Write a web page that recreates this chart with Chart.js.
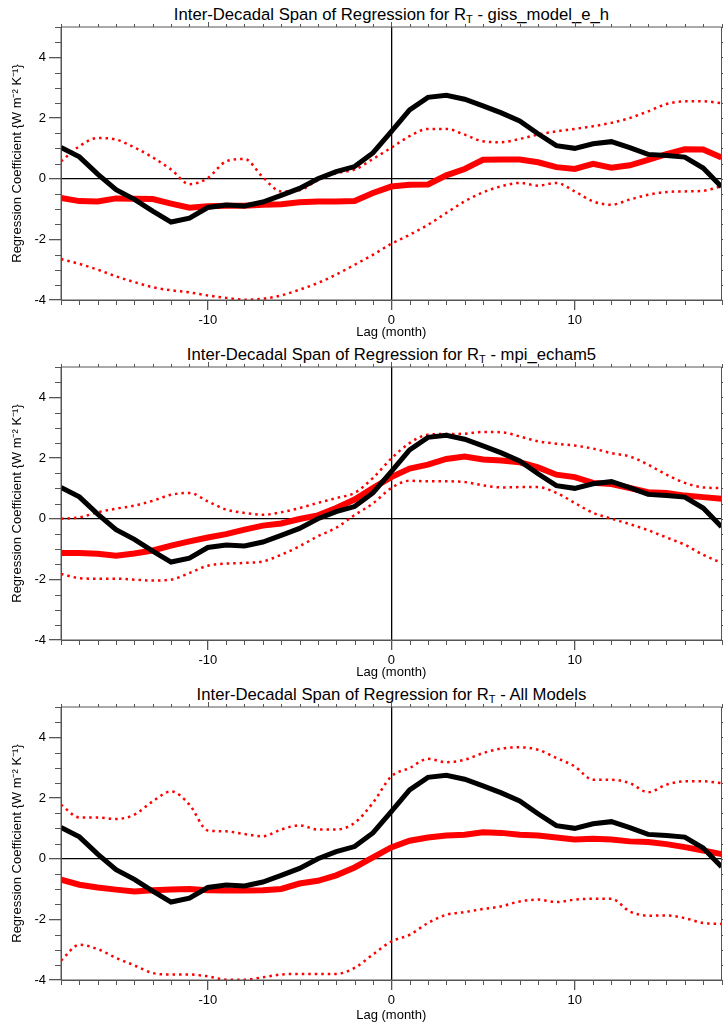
<!DOCTYPE html>
<html>
<head>
<meta charset="utf-8">
<script src="https://cdn.jsdelivr.net/npm/chart.js@4.4.0/dist/chart.umd.min.js"></script>
<style>
  html, body { margin: 0; padding: 0; background: #fff; }
  .panel { position: relative; width: 723px; height: 340px; }
  .panel.last { height: 343px; }
  .panel canvas { position: absolute; left: 0; top: 0; }
  .title {
    position: absolute; left: 61px; width: 661px; top: 5px;
    text-align: center; font: 16.7px "Liberation Sans", Arial, sans-serif;
    line-height: 20px; color: #000; white-space: nowrap;
  }
  .title sub { font-size: 11px; vertical-align: -3px; line-height: 0; }
</style>
</head>
<body>

<div class="panel"><div class="title">Inter-Decadal Span of Regression for R<sub>T</sub> - giss_model_e_h</div><canvas id="c1" width="723" height="340"></canvas></div>
<div class="panel"><div class="title">Inter-Decadal Span of Regression for R<sub>T</sub> - mpi_echam5</div><canvas id="c2" width="723" height="340"></canvas></div>
<div class="panel last"><div class="title">Inter-Decadal Span of Regression for R<sub>T</sub> - All Models</div><canvas id="c3" width="723" height="343"></canvas></div>

<script>
// lag in months
var lags = [-18, -17, -16, -15, -14, -13, -12, -11, -10, -9, -8, -7, -6, -5, -4, -3, -2, -1, 0,
            1, 2, 3, 4, 5, 6, 7, 8, 9, 10, 11, 12, 13, 14, 15, 16, 17, 18];

// observations (black, same in every panel)
var obs = [1.03, 0.72, 0.15, -0.36, -0.68, -1.07, -1.43, -1.30, -0.95, -0.87, -0.90, -0.77, -0.55, -0.32, 0.00, 0.23, 0.40, 0.85, 1.55,
           2.27, 2.68, 2.75, 2.62, 2.40, 2.17, 1.90, 1.48, 1.09, 1.00, 1.15, 1.22, 1.02, 0.80, 0.76, 0.71, 0.35, -0.27];

// giss_model_e_h
var gissMean = [-0.64, -0.74, -0.75, -0.65, -0.66, -0.67, -0.82, -0.96, -0.91, -0.89, -0.89, -0.86, -0.84, -0.78, -0.75, -0.75, -0.74, -0.47, -0.26,
                -0.20, -0.19, 0.11, 0.32, 0.62, 0.63, 0.63, 0.54, 0.38, 0.32, 0.49, 0.36, 0.44, 0.62, 0.81, 0.97, 0.96, 0.70];
var gissUpper = [0.57, 1.07, 1.34, 1.29, 1.03, 0.70, 0.30, -0.18, 0.02, 0.57, 0.65, 0.05, -0.42, -0.38, -0.05, 0.18, 0.30, 0.65, 1.02,
                 1.40, 1.64, 1.64, 1.45, 1.23, 1.20, 1.31, 1.45, 1.56, 1.64, 1.73, 1.84, 2.00, 2.22, 2.46, 2.55, 2.55, 2.49];
var gissLower = [-2.65, -2.81, -3.00, -3.22, -3.41, -3.58, -3.68, -3.75, -3.85, -3.93, -3.99, -3.96, -3.85, -3.66, -3.44, -3.16, -2.84, -2.51, -2.15,
                 -1.85, -1.52, -1.13, -0.75, -0.45, -0.25, -0.14, -0.23, -0.14, -0.42, -0.75, -0.86, -0.69, -0.53, -0.44, -0.42, -0.40, -0.25];

// mpi_echam5
var mpiMean = [-1.13, -1.13, -1.16, -1.22, -1.15, -1.05, -0.89, -0.75, -0.62, -0.51, -0.36, -0.23, -0.16, -0.01, 0.11, 0.35, 0.63, 1.01, 1.37,
               1.65, 1.78, 1.97, 2.05, 1.95, 1.92, 1.86, 1.69, 1.45, 1.37, 1.18, 1.14, 1.01, 0.87, 0.85, 0.76, 0.71, 0.66];
var mpiUpper = [0.00, 0.04, 0.21, 0.33, 0.43, 0.59, 0.79, 0.85, 0.57, 0.30, 0.19, 0.13, 0.21, 0.35, 0.52, 0.68, 0.85, 1.34, 1.98,
                2.49, 2.77, 2.79, 2.80, 2.86, 2.85, 2.71, 2.55, 2.47, 2.41, 2.31, 2.16, 2.05, 1.78, 1.45, 1.18, 1.03, 1.01];
var mpiLower = [-1.82, -1.96, -1.98, -1.98, -2.01, -2.04, -2.01, -1.79, -1.55, -1.48, -1.46, -1.41, -1.19, -0.91, -0.58, -0.30, 0.12, 0.50, 1.01,
                1.25, 1.23, 1.23, 1.21, 1.10, 1.03, 1.04, 1.04, 0.85, 0.52, 0.19, 0.00, -0.18, -0.38, -0.62, -0.86, -1.19, -1.46];

// All Models
var allMean = [-0.69, -0.86, -0.95, -1.02, -1.08, -1.04, -1.02, -1.00, -1.04, -1.05, -1.05, -1.04, -1.00, -0.82, -0.73, -0.55, -0.29, 0.04, 0.37,
               0.59, 0.70, 0.76, 0.79, 0.87, 0.85, 0.79, 0.76, 0.70, 0.63, 0.66, 0.63, 0.57, 0.55, 0.48, 0.38, 0.27, 0.15];
var allUpper = [1.78, 1.36, 1.36, 1.31, 1.45, 1.89, 2.22, 1.78, 0.93, 0.90, 0.81, 0.74, 0.96, 1.10, 0.96, 0.96, 1.18, 1.84, 2.71,
                2.99, 3.29, 3.18, 3.26, 3.48, 3.63, 3.67, 3.59, 3.32, 3.04, 2.60, 2.60, 2.49, 2.19, 2.44, 2.55, 2.55, 2.49];
var allLower = [-3.36, -2.84, -2.98, -3.27, -3.52, -3.77, -3.82, -3.82, -3.88, -3.99, -3.99, -3.91, -3.82, -3.80, -3.80, -3.80, -3.60, -3.16, -2.73,
                -2.51, -2.12, -1.85, -1.76, -1.66, -1.57, -1.41, -1.35, -1.43, -1.35, -1.32, -1.32, -1.74, -1.88, -1.87, -1.96, -2.12, -2.15];

var xTicks = [-10, 0, 10];
var yTicks = [-4, -2, 0, 2, 4];
var xMinor = 1, yMinor = 0.5;

Chart.defaults.font.family = '"Liberation Sans", Arial, sans-serif';
Chart.defaults.font.size = 13;
Chart.defaults.color = '#000';

// frame + minor ticks (IDL style box)
var frameTicks = {
    id: 'frameTicks',
    afterDraw: function(chart) {
        var ctx = chart.ctx, a = chart.chartArea, x = chart.scales.x, y = chart.scales.y;
        ctx.save();
        ctx.strokeStyle = '#555';
        ctx.lineWidth = 1;
        ctx.beginPath();
        ctx.rect(a.left, a.top, a.right - a.left, a.bottom - a.top);
        for (var v = x.min; v <= x.max; v += xMinor) {
            var px = Math.round(x.getPixelForValue(v)) + 0.5;
            var major = xTicks.indexOf(v) >= 0;
            if (!major) { ctx.moveTo(px, a.bottom); ctx.lineTo(px, a.bottom + 5); }
            ctx.moveTo(px, a.top); ctx.lineTo(px, a.top - (major ? 5 : 3));
        }
        for (var w = y.min; w <= y.max; w += yMinor) {
            var py = Math.round(y.getPixelForValue(w)) + 0.5;
            var majorY = yTicks.indexOf(w) >= 0;
            if (!majorY) { ctx.moveTo(a.left, py); ctx.lineTo(a.left - 6, py); }
            ctx.moveTo(a.right, py); ctx.lineTo(a.right + (majorY ? 12 : 6), py);
        }
        ctx.stroke();
        ctx.restore();
    }
};

function makeChart(id, mean, upper, lower, bottomH) {
    var ctx = document.getElementById(id).getContext("2d");
    var dotted = { borderColor: "#ff0000", borderWidth: 2.5, borderDash: [2.5, 4], pointRadius: 0, cubicInterpolationMode: 'monotone', order: 2 };
    return new Chart(ctx, {
        type: "line",
        data: {
            labels: lags,
            datasets: [
                { label: "obs", data: obs, borderColor: "#000", borderWidth: 5, pointRadius: 0, tension: 0, order: 0 },
                { label: "mean", data: mean, borderColor: "#ff0000", borderWidth: 6, pointRadius: 0, tension: 0, order: 1 },
                Object.assign({ label: "upper", data: upper }, dotted),
                Object.assign({ label: "lower", data: lower }, dotted)
            ]
        },
        options: {
            responsive: false,
            animation: false,
            events: [],
            layout: { padding: { top: 27, right: 1.5, left: 0, bottom: 0 } },
            plugins: { legend: { display: false }, tooltip: { enabled: false }, title: { display: false } },
            scales: {
                x: {
                    type: "linear", min: -18, max: 18,
                    afterBuildTicks: function(s) { s.ticks = xTicks.map(function(v) { return { value: v }; }); },
                    afterFit: function(s) { s.height = bottomH; },
                    ticks: { padding: 3, maxRotation: 0, font: { size: 13 } },
                    grid: {
                        drawOnChartArea: true, tickLength: 10, tickColor: '#555',
                        color: function(c) { return c.tick && c.tick.value === 0 ? '#000' : 'rgba(0,0,0,0)'; },
                        lineWidth: 1.3
                    },
                    border: { display: true, color: '#555', width: 1 },
                    title: { display: true, text: "Lag (month)", padding: { top: 0, bottom: 0 }, font: { size: 13 } }
                },
                y: {
                    min: -4, max: 5,
                    afterBuildTicks: function(s) { s.ticks = yTicks.map(function(v) { return { value: v }; }); },
                    afterFit: function(s) { s.width = 61; },
                    ticks: { padding: 3, font: { size: 13 } },
                    grid: {
                        drawOnChartArea: true, tickLength: 12, tickColor: '#555',
                        color: function(c) { return c.tick && c.tick.value === 0 ? '#000' : 'rgba(0,0,0,0)'; },
                        lineWidth: 1.3
                    },
                    border: { display: true, color: '#555', width: 1 },
                    title: { display: true, text: "Regression Coefficient {W m\u207B\u00B2 K\u207B\u00B9}", padding: { top: 10, bottom: 0 }, font: { size: 13 } }
                }
            }
        },
        plugins: [frameTicks]
    });
}

makeChart("c1", gissMean, gissUpper, gissLower, 40);
makeChart("c2", mpiMean, mpiUpper, mpiLower, 40);
makeChart("c3", allMean, allUpper, allLower, 43);
</script>
</body>
</html>
